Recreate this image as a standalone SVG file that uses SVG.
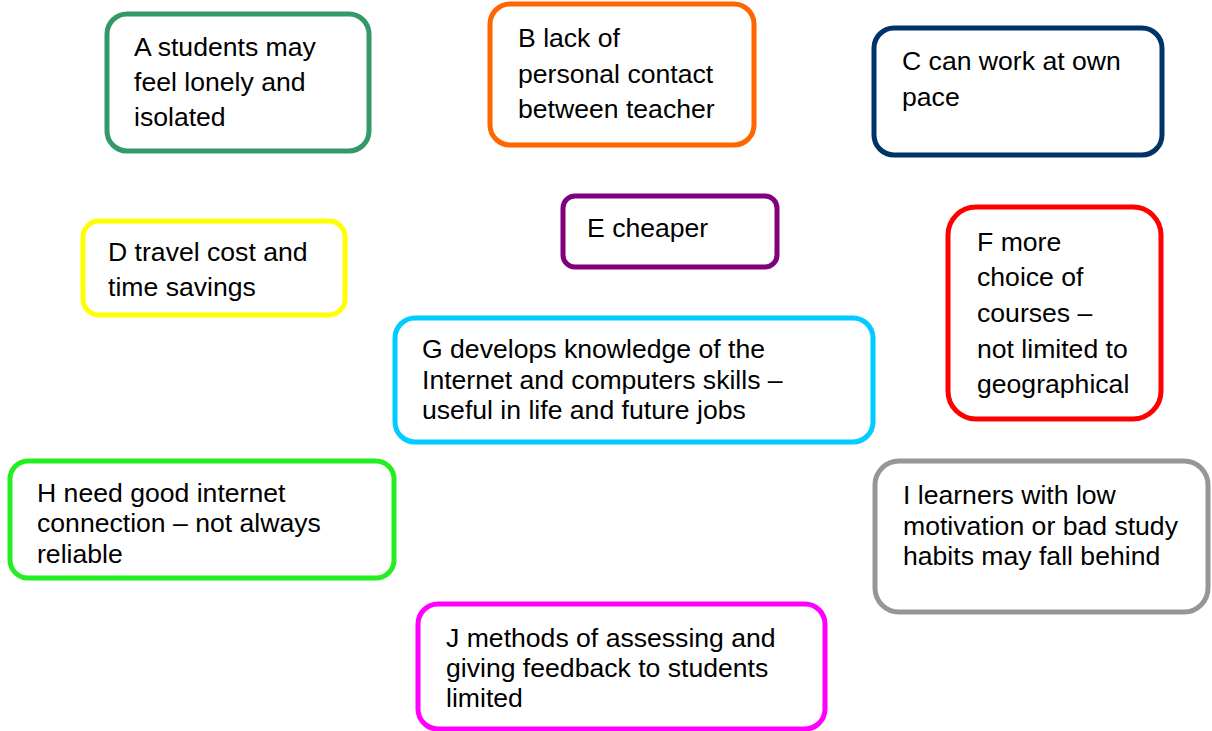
<svg xmlns="http://www.w3.org/2000/svg" width="1212" height="731" viewBox="0 0 1212 731">
<style>
  .box { fill: #ffffff; stroke-width: 5; }
  .t { font-family: "Liberation Sans", Arial, sans-serif; font-size: 26.6px; fill: #000000; }
</style>
<rect width="1212" height="731" fill="#ffffff"/>
<g id="connectors"></g>
<g id="nodeA">
  <rect class="box" x="107" y="14" width="262" height="137" rx="20" stroke="#339966"/>
  <text class="t"><tspan x="134" y="56">A students may</tspan><tspan x="134" y="91">feel lonely and</tspan><tspan x="134" y="126">isolated</tspan></text>
</g>
<g id="nodeB">
  <rect class="box" x="490" y="4" width="264" height="141" rx="20" stroke="#ff6600"/>
  <text class="t"><tspan x="518" y="47">B lack of</tspan><tspan x="518" y="83">personal contact</tspan><tspan x="518" y="118">between teacher</tspan></text>
</g>
<g id="nodeC">
  <rect class="box" x="874" y="28" width="288" height="127" rx="20" stroke="#003366"/>
  <text class="t"><tspan x="902" y="70">C can work at own</tspan><tspan x="902" y="106">pace</tspan></text>
</g>
<g id="nodeD">
  <rect class="box" x="83" y="221" width="262" height="94" rx="16" stroke="#ffff00"/>
  <text class="t"><tspan x="108" y="261">D travel cost and</tspan><tspan x="108" y="296">time savings</tspan></text>
</g>
<g id="nodeE">
  <rect class="box" x="563" y="196" width="214" height="71" rx="12" stroke="#800080"/>
  <text class="t"><tspan x="587" y="237">E cheaper</tspan></text>
</g>
<g id="nodeF">
  <rect class="box" x="948" y="207" width="213" height="212" rx="28" stroke="#ff0000"/>
  <text class="t"><tspan x="977" y="251">F more</tspan><tspan x="977" y="286">choice of</tspan><tspan x="977" y="322">courses –</tspan><tspan x="977" y="358">not limited to</tspan><tspan x="977" y="393">geographical</tspan></text>
</g>
<g id="nodeG">
  <rect class="box" x="395" y="318" width="478" height="124" rx="20" stroke="#00ccff"/>
  <text class="t"><tspan x="422" y="358">G develops knowledge of the</tspan><tspan x="422" y="389">Internet and computers skills –</tspan><tspan x="422" y="419">useful in life and future jobs</tspan></text>
</g>
<g id="nodeH">
  <rect class="box" x="10" y="461" width="384" height="117" rx="18" stroke="#22ee22"/>
  <text class="t"><tspan x="37" y="502">H need good internet</tspan><tspan x="37" y="532">connection – not always</tspan><tspan x="37" y="563">reliable</tspan></text>
</g>
<g id="nodeI">
  <rect class="box" x="875" y="461" width="333" height="151" rx="24" stroke="#969696"/>
  <text class="t"><tspan x="903" y="504">I learners with low</tspan><tspan x="903" y="535">motivation or bad study</tspan><tspan x="903" y="565">habits may fall behind</tspan></text>
</g>
<g id="nodeJ">
  <rect class="box" x="418" y="604" width="407" height="125" rx="20" stroke="#ff00ff"/>
  <text class="t"><tspan x="446" y="647">J methods of assessing and</tspan><tspan x="446" y="677">giving feedback to students</tspan><tspan x="446" y="707">limited</tspan></text>
</g>
</svg>
